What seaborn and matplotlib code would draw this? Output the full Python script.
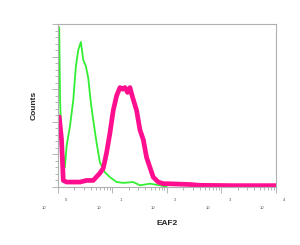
import matplotlib
matplotlib.use("Agg")
import matplotlib.pyplot as plt
from matplotlib.ticker import MultipleLocator, LogLocator, NullFormatter
import numpy as np
import pandas as pd
import seaborn as sns

# fluorescence position (decades, log10) and counts
iso_log = [0.024, 0.04, 0.055, 0.098, 0.128, 0.159, 0.220, 0.281, 0.330, 0.373, 0.422,
           0.465, 0.514, 0.556, 0.600, 0.648, 0.710, 0.771, 0.862, 0.954, 1.077,
           1.199, 1.382, 1.505, 1.688, 1.872, 1.994]
iso_counts = [98, 53, 40, 20, 12, 25, 37, 53, 74, 84, 89,
              78, 74, 67, 53, 41, 27, 15, 9, 6, 3,
              2.5, 3, 1, 2, 1, 0]

eaf2_log = [0.024, 0.067, 0.098, 0.159, 0.404, 0.526, 0.648, 0.771, 0.832, 0.893,
            0.954, 1.015, 1.077, 1.138, 1.187, 1.229, 1.278, 1.321, 1.370, 1.443,
            1.505, 1.566, 1.627, 1.688, 1.749, 1.841, 1.933, 1.994, 2.422, 2.605,
            3.2, 4.0]
eaf2_counts = [43, 29, 4, 3, 3, 4, 4, 8.5, 11.5, 21,
               33, 47, 56, 61, 60, 61, 58, 61, 55, 47,
               35, 29, 18, 12, 6, 3, 2, 2, 1.5, 1,
               0.8, 0.8]

iso = pd.DataFrame({"fl": np.power(10, iso_log), "count": iso_counts})
eaf2 = pd.DataFrame({"fl": np.power(10, eaf2_log), "count": eaf2_counts})

sns.set_style("white")
plt.rcParams["font.family"] = ["Liberation Sans", "DejaVu Sans"]

fig = plt.figure(figsize=(3.0, 2.45), dpi=100)
ax = fig.add_axes([0.193, 0.237, 0.727, 0.665])

sns.lineplot(data=iso, x="fl", y="count", color="#33ee33", lw=1.3,
             estimator=None, sort=True, ax=ax)
sns.lineplot(data=eaf2, x="fl", y="count", color="#ff0f8f", lw=3.4,
             estimator=None, sort=True, ax=ax)

ax.set_xscale("log")
ax.set_xlim(1, 10000)
ax.set_ylim(0, 100)

for s in ax.spines.values():
    s.set_color("#b0b0b0")
    s.set_linewidth(0.8)

ax.yaxis.set_major_locator(MultipleLocator(20))
ax.yaxis.set_minor_locator(MultipleLocator(4))
ax.set_yticklabels([])
ax.tick_params(axis="y", which="both", left=True, length=2.5, width=0.5, color="#999999")
ax.tick_params(axis="y", which="major", length=4)

ax.xaxis.set_major_locator(LogLocator(base=10, numticks=10))
ax.xaxis.set_minor_locator(LogLocator(base=10, subs=np.arange(2, 10), numticks=10))
ax.xaxis.set_minor_formatter(NullFormatter())
ax.set_xticklabels([])
ax.tick_params(axis="x", which="both", bottom=True, length=2.5, width=0.5, color="#999999")
ax.tick_params(axis="x", which="major", length=4)

for i, d in enumerate([1, 10, 100, 1000, 10000]):
    ax.annotate(str(i), xy=(d, 0), xycoords=("data", "axes fraction"),
                xytext=(6, -10), textcoords="offset points",
                fontsize=3, color="#555555", ha="center")
    ax.annotate("10", xy=(d, 0), xycoords=("data", "axes fraction"),
                xytext=(-10, -16), textcoords="offset points",
                fontsize=3, color="#555555", ha="center")

ax.set_xlabel("EAF2", fontsize=6, fontweight="bold", labelpad=16)
ax.set_ylabel("Counts", fontsize=6, fontweight="bold", labelpad=7)

fig.savefig("out.png", dpi=100)
